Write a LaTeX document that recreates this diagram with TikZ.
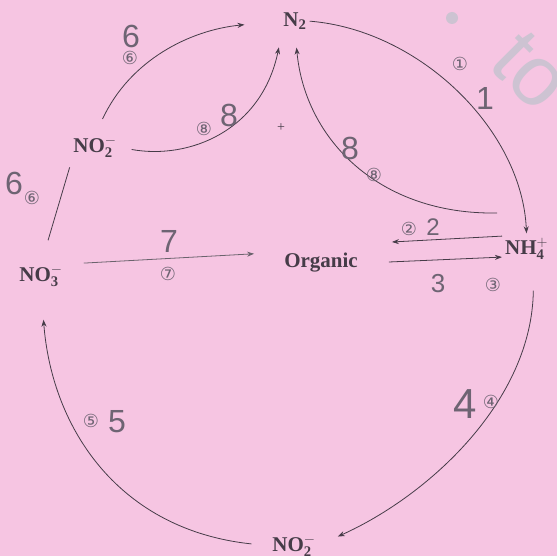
\documentclass[tikz,border=0pt]{standalone}
\usepackage{fontspec}
\setmainfont{Liberation Serif}
\newfontfamily\handfont{Liberation Sans}
\newfontfamily\circfont{DejaVu Sans}
\usetikzlibrary{arrows.meta,positioning}
\definecolor{paper}{RGB}{246,197,226}
\definecolor{ink}{RGB}{70,60,72}
\definecolor{pencil}{RGB}{110,100,115}
\definecolor{wmark}{RGB}{205,195,210}

\begin{document}
\begin{tikzpicture}[x=1pt, y=-1pt,
    every node/.style={inner sep=1pt},
    chem/.style={font=\fontsize{21pt}{22pt}\selectfont\bfseries, text=ink},
    hand/.style={font=\handfont\fontsize{32pt}{32pt}\selectfont, text=pencil},
    circ/.style={font=\circfont\fontsize{18pt}{18pt}\selectfont, text=pencil},
    arrow/.style={-{Stealth[length=7pt,width=5pt]}, draw=ink, thick},
    link/.style={draw=ink, thick}
]
    \fill[paper] (0,0) rectangle (557,556);
    \useasboundingbox (0,0) rectangle (557,556);

    % watermark
    \fill[wmark] (452,18) circle (6pt);
    \node (wm) [font=\handfont\fontsize{85pt}{85pt}\selectfont, text=wmark, rotate=-45] at (531,71) {to};

    % compounds
    \node (nitrogen) [chem] at (295,21) {N$_{\mathbf 2}$};
    \node (nitriteTop) [chem] at (95,147) {NO$_{\mathbf 2}^{\mathbf -}$};
    \node (nitrate) [chem] at (41,276) {NO$_{\mathbf 3}^{\mathbf -}$};
    \node (organic) [chem] at (321,263) {Organic};
    \node (ammonium) [chem, anchor=west] at (504,249) {NH$_{\mathbf 4}^{\mathbf +}$};
    \node (nitriteBot) [chem] at (294,546) {NO$_{\mathbf 2}^{\mathbf -}$};
    \node (plus) [font=\fontsize{14pt}{14pt}\selectfont, text=ink] at (281,128) {+};

    % steps
    \draw [arrow, shorten <=2pt, shorten >=4pt] (nitrogen.east) .. controls (420,30) and (522,130) .. (ammonium.north);
    \draw [arrow, shorten <=2pt] ([yshift=13pt]ammonium.west) -- ([yshift=21pt, xshift=33pt]organic.east);
    \draw [arrow, shorten >=2pt] ([xshift=30pt, yshift=1pt]organic.east) -- ([yshift=-8pt]ammonium.west);
    \draw [arrow, shorten <=30pt, shorten >=23pt] ([xshift=7pt]ammonium.south) .. controls (532,400) and (430,495) .. (nitriteBot.east);
    \draw [arrow, shorten <=20pt, shorten >=32pt] (nitriteBot.west) .. controls (120,530) and (52,430) .. (nitrate.south);
    \draw [link, shorten <=25pt, shorten >=9pt] (nitrate.north) -- (nitriteTop.south west);
    \draw [arrow, shorten <=18pt, shorten >=38pt] (nitriteTop.north) .. controls (130,60) and (190,30) .. (nitrogen.west);
    \draw [arrow, draw=ink!80, shorten <=20pt, shorten >=29pt] (nitrate.north east) -- (organic.north west);
    \draw [arrow, shorten <=14pt, shorten >=17pt] (nitriteTop.east) .. controls (190,160) and (262,130) .. (nitrogen.south west);
    \coordinate (denit) at (497,213);
    \draw [arrow, shorten >=17pt] (denit) .. controls (380,215) and (305,140) .. (nitrogen.south);

    % step numbers
    \node (h1) [hand] at (485,98) {1};
    \node (c1) [circ] at (460,64) {①};
    \node (h2) [hand, font=\handfont\fontsize{24pt}{24pt}\selectfont] at (433,227) {2};
    \node (c2) [circ] at (409,229) {②};
    \node (h3) [hand, font=\handfont\fontsize{26pt}{26pt}\selectfont] at (438,284) {3};
    \node (c3) [circ] at (493,285) {③};
    \node (h4) [hand, font=\handfont\fontsize{42pt}{42pt}\selectfont] at (465,404) {4};
    \node (c4) [circ] at (491,402) {④};
    \node (h5) [hand] at (117,422) {5};
    \node (c5) [circ] at (91,421) {⑤};
    \node (h6) [hand] at (131,36) {6};
    \node (c6) [circ] at (130,58) {⑥};
    \node (h6b) [hand] at (14,183) {6};
    \node (c6b) [circ] at (32,198) {⑥};
    \node (h7) [hand] at (169,241) {7};
    \node (c7) [circ] at (168,274) {⑦};
    \node (h8) [hand] at (229,115) {8};
    \node (c8) [circ] at (204,129) {⑧};
    \node (h8b) [hand] at (350,148) {8};
    \node (c8b) [circ] at (374,175) {⑧};
\end{tikzpicture}
\end{document}
